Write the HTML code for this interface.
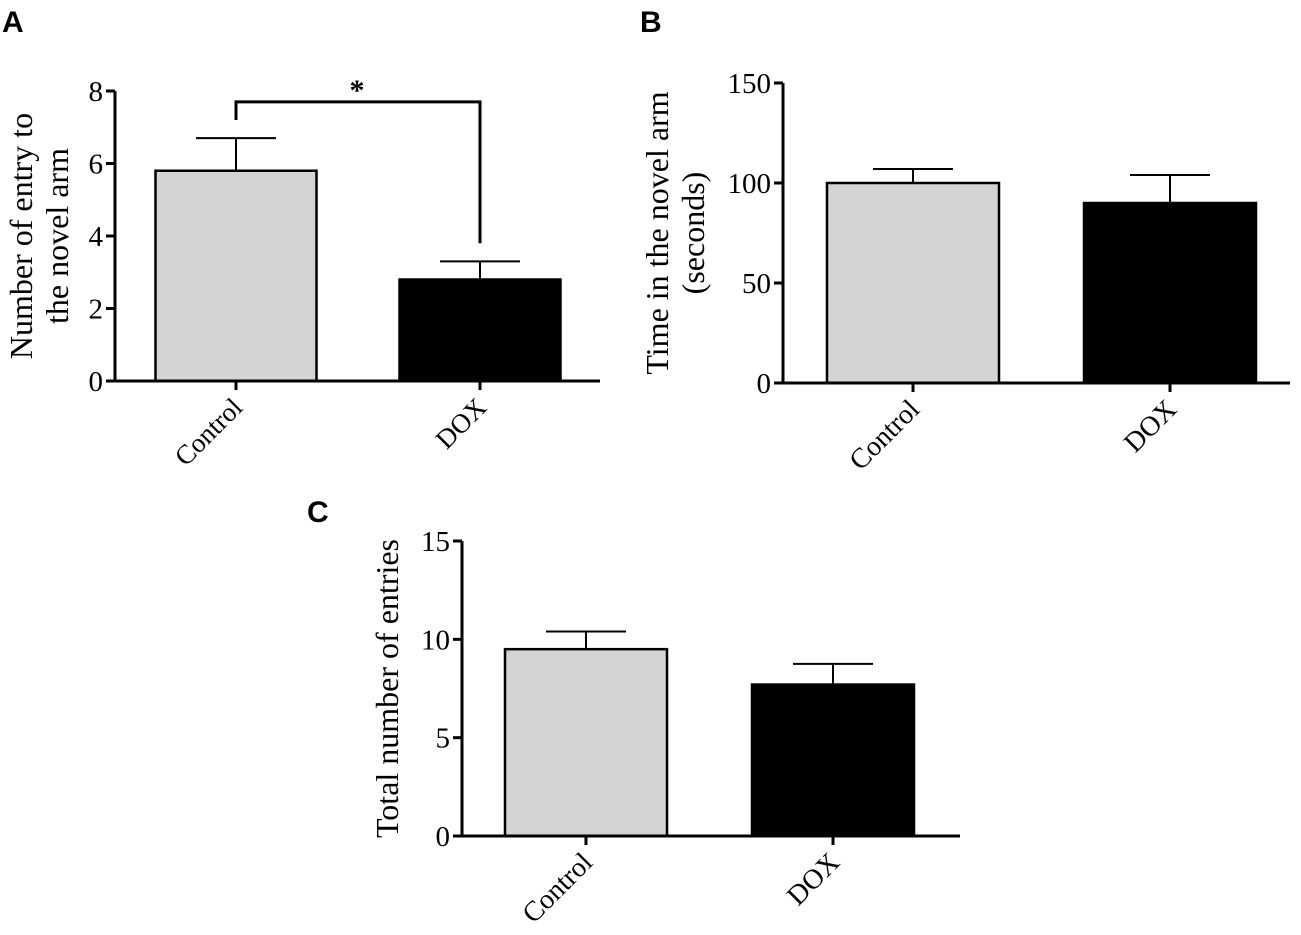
<!DOCTYPE html>
<html><head><meta charset="utf-8"><style>
body{margin:0;background:#fff}
svg text{font-family:"Liberation Serif",serif;fill:#000}
.lab{font-family:"Liberation Sans",sans-serif;font-weight:bold;font-size:30px}
</style></head><body>
<svg id="s" width="1301" height="930" xmlns="http://www.w3.org/2000/svg">
<text class="lab" x="2" y="32">A</text>
<text class="lab" x="640" y="32">B</text>
<text class="lab" x="307" y="522">C</text>
</svg>
<script>
const categories=["Control","DOX"];
const aValues=[5.8,2.8];const aErrors=[0.9,0.5];const aTicks=[0,2,4,6,8];
const bValues=[100,90];const bErrors=[7,14];const bTicks=[0,50,100,150];
const cValues=[9.5,7.7];const cErrors=[0.9,1.05];const cTicks=[0,5,10,15];
const svg=document.getElementById('s');const NS='http://www.w3.org/2000/svg';
function mk(t,a,txt){const e=document.createElementNS(NS,t);for(const k in a)e.setAttribute(k,a[k]);if(txt!==undefined)e.textContent=txt;svg.appendChild(e);return e;}
function panel(p,o){
 const y=v=>o.y0-(v-o.min)/(o.max-o.min)*(o.y0-o.y1);
 let e;
 p.ticks.forEach(t=>{
  e=mk('line',{x1:o.ax-9,x2:o.ax,y1:y(t),y2:y(t),stroke:'#000','stroke-width':3});
  
  e=mk('text',{x:o.ax-12,y:y(t)+10,'text-anchor':'end','font-size':29},String(t));
  
 });
 categories.forEach((c,i)=>{
  const cx=o.cx[i],v=p.values[i],er=p.errors[i];
  e=mk('line',{x1:cx,x2:cx,y1:y(v),y2:y(v+er),stroke:'#000','stroke-width':2});
  
  e=mk('line',{x1:cx-40,x2:cx+40,y1:y(v+er),y2:y(v+er),stroke:'#000','stroke-width':2});
  
  e=mk('rect',{x:cx-o.bw/2,y:y(v),width:o.bw,height:o.y0-y(v),fill:i?'#000':'#d4d4d4',stroke:'#000','stroke-width':2.5});
  
  e=mk('line',{x1:cx,x2:cx,y1:o.y0,y2:o.y0+9,stroke:'#000','stroke-width':3});
  
  e=mk('text',{x:cx+8,y:o.y0+28,'text-anchor':'end','font-size':o.fs,transform:`rotate(-45 ${cx+8} ${o.y0+28})`},c);
  
 });
 e=mk('path',{d:`M${o.ax} ${y(o.max)}V${o.y0}H${o.xe}`,fill:'none',stroke:'#000','stroke-width':3});
 
 const my=(o.y0+o.y1)/2;
 o.title.forEach((t,k)=>{
  const tx=o.tx+k*36;
  e=mk('text',{x:tx,y:my,'text-anchor':'middle','font-size':32,transform:`rotate(-90 ${tx} ${my})`},t);
  
 });
}
panel({values:aValues,errors:aErrors,ticks:aTicks},{id:'a',ax:115,y0:381,y1:91,min:0,max:8,cx:[236,480],bw:161,xe:600,fs:27,title:['Number of entry to','the novel arm'],tx:32});
panel({values:bValues,errors:bErrors,ticks:bTicks},{id:'b',ax:783,y0:383,y1:83,min:0,max:150,cx:[913,1170],bw:172,xe:1290,fs:28,title:['Time in the novel arm','(seconds)'],tx:668});
panel({values:cValues,errors:cErrors,ticks:cTicks},{id:'c',ax:462,y0:836,y1:541,min:0,max:15,cx:[586,833],bw:162,xe:960,fs:28,title:['Total number of entries'],tx:398});
const ya=v=>381-v*36.25;
let e=mk('path',{d:`M236 ${ya(7.2)}V${ya(7.7)}H480V${ya(3.8)}`,fill:'none',stroke:'#000','stroke-width':3});

e=mk('text',{x:357,y:100,'text-anchor':'middle','font-size':30,'font-weight':'bold','font-family':'Liberation Sans'},'*');

</script>
</body></html>
